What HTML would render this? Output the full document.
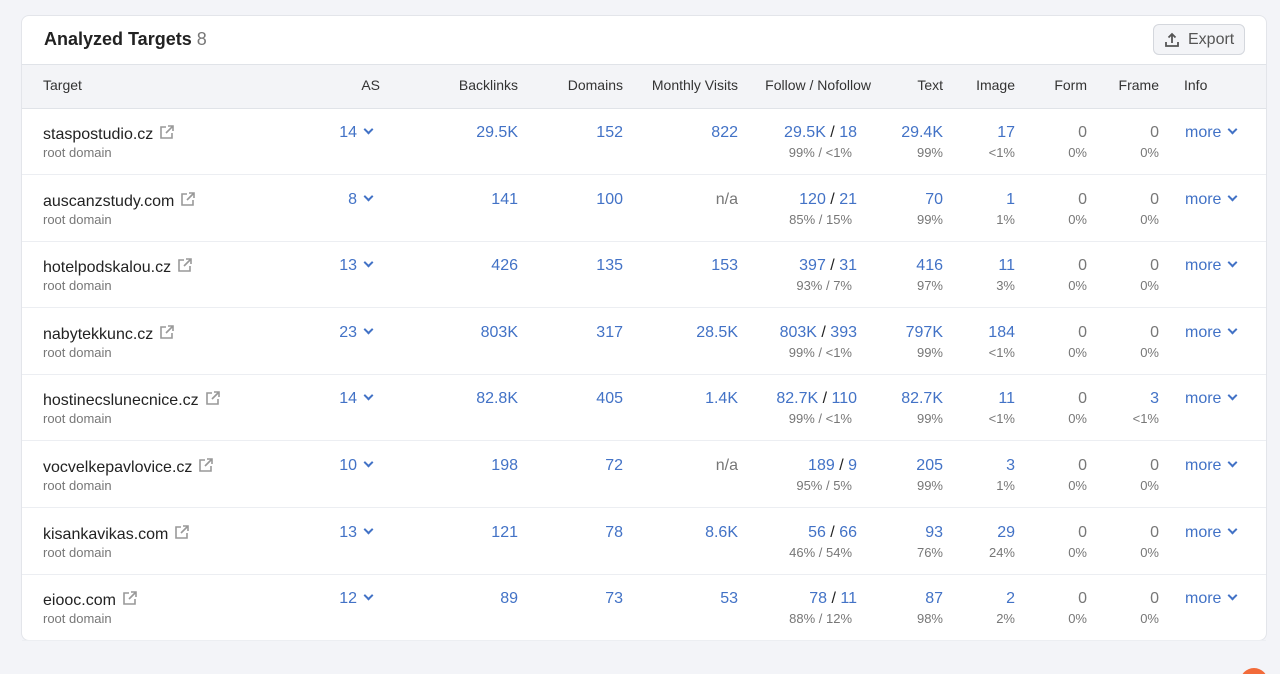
<!DOCTYPE html>
<html><head><meta charset="utf-8"><style>
html,body{margin:0;width:1280px;height:674px;overflow:hidden}
body{background:#f3f4f8;font-family:"Liberation Sans",sans-serif;position:relative}
.card{position:absolute;left:21px;top:15px;width:1246px;height:626px;background:#fff;border:1px solid #e3e5ea;border-radius:8px;box-sizing:border-box;overflow:hidden}
.hdr{position:absolute;left:0;top:48px;width:100%;height:45px;background:#f3f4f7;border-top:1px solid #e0e3e8;border-bottom:1px solid #e0e3e8;box-sizing:border-box}
.t{position:absolute;white-space:nowrap;line-height:1}
.h{font-size:14px;color:#333}
.m{font-size:16px;color:#222}
.b{color:#4272c6}
.s{font-size:13px;color:#777}
.g{color:#777}
.chev{display:inline-block;width:5px;height:5px;border-right:2px solid #4272c6;border-bottom:2px solid #4272c6;transform:rotate(45deg);margin-left:8px;position:relative;top:-4px}
.ext{display:inline-block;margin-left:6px;vertical-align:-1px}
</style></head><body>
<div class="card">
<div class="t" style="left:22px;top:14px;font-size:18px;font-weight:bold;color:#222">Analyzed Targets <span style="font-weight:normal;color:#777">8</span></div>
<div style="position:absolute;left:1131px;top:8px;width:92px;height:31px;border:1px solid #d4d7dd;border-radius:6px;background:#f3f4f7;box-sizing:border-box"><span class="t" style="left:34px;top:7px;font-size:16px;color:#555">Export</span><svg style="position:absolute;left:10px;top:7px" width="16" height="16" viewBox="0 0 16 16" fill="none" stroke="#555" stroke-width="1.8"><path d="M2 10v4h12v-4"/><path d="M8 11V2M4.5 5.5L8 2l3.5 3.5"/></svg></div>
<div class="hdr"></div>
</div>
<div id="x"></div>
<script>
const H=[["Target",43,"l"],["AS",380,"r"],["Backlinks",518,"r"],["Domains",623,"r"],["Monthly Visits",738,"r"],["Follow / Nofollow",871,"r"],["Text",943,"r"],["Image",1015,"r"],["Form",1087,"r"],["Frame",1159,"r"],["Info",1184,"l"]];
const D=[["staspostudio.cz",14,"29.5K",152,"822","29.5K","18","99% / <1%","29.4K","99%","17","<1%"],
["auscanzstudy.com",8,"141",100,"n/a","120","21","85% / 15%","70","99%","1","1%"],
["hotelpodskalou.cz",13,"426",135,"153","397","31","93% / 7%","416","97%","11","3%"],
["nabytekkunc.cz",23,"803K",317,"28.5K","803K","393","99% / <1%","797K","99%","184","<1%"],
["hostinecslunecnice.cz",14,"82.8K",405,"1.4K","82.7K","110","99% / <1%","82.7K","99%","11","<1%",1],
["vocvelkepavlovice.cz",10,"198",72,"n/a","189","9","95% / 5%","205","99%","3","1%"],
["kisankavikas.com",13,"121",78,"8.6K","56","66","46% / 54%","93","76%","29","24%"],
["eiooc.com",12,"89",73,"53","78","11","88% / 12%","87","98%","2","2%"]];
const EXT='<svg class="ext" width="16" height="16" viewBox="0 0 16 16" fill="none" stroke="#999" stroke-width="1.6"><path d="M7 3H2v11h11V9"/><path d="M9 2h5v5M14 2L7 9"/></svg>';
let o="";
const R=(x,y,c,txt)=>`<div class="t ${c}" style="right:${1280-x}px;top:${y}px">${txt}</div>`;
const L=(x,y,c,txt)=>`<div class="t ${c}" style="left:${x}px;top:${y}px">${txt}</div>`;
H.forEach(h=>{o+=h[2]=="l"?L(h[1],78,"h",h[0]):R(h[1],78,"h",h[0]);});
D.forEach((d,i)=>{const y=108+i*66.6;const a=y+17,s=y+38;
o+=`<div style="position:absolute;left:22px;right:14px;top:${y+66}px;height:1px;background:#eceef2"></div>`;
o+=L(43,a-1,"m",d[0]+EXT)+L(43,s,"s","root domain");
o+=R(357,a,"m b",d[1])+L(357,a,"",'<span class="chev"></span>');
o+=R(518,a,"m b",d[2])+R(623,a,"m b",d[3])+R(738,a,"m "+(d[4]=="n/a"?"g":"b"),d[4]);
o+=R(857,a,"m",`<span class="b">${d[5]}</span> / <span class="b">${d[6]}</span>`)+R(852,s,"s",d[7]);
o+=R(943,a,"m b",d[8])+R(943,s,"s",d[9])+R(1015,a,"m b",d[10])+R(1015,s,"s",d[11]);
o+=R(1087,a,"m g","0")+R(1087,s,"s","0%");
o+=d[12]===1?R(1159,a,"m b","3")+R(1159,s,"s","&lt;1%"):R(1159,a,"m g","0")+R(1159,s,"s","0%");
o+=L(1185,a,"m b",'more<span class="chev"></span>');});
document.getElementById("x").innerHTML=o;
</script>
<div style="position:absolute;left:1240px;top:668px;width:28px;height:28px;border-radius:50%;background:#f26b3a"></div>
</body></html>
